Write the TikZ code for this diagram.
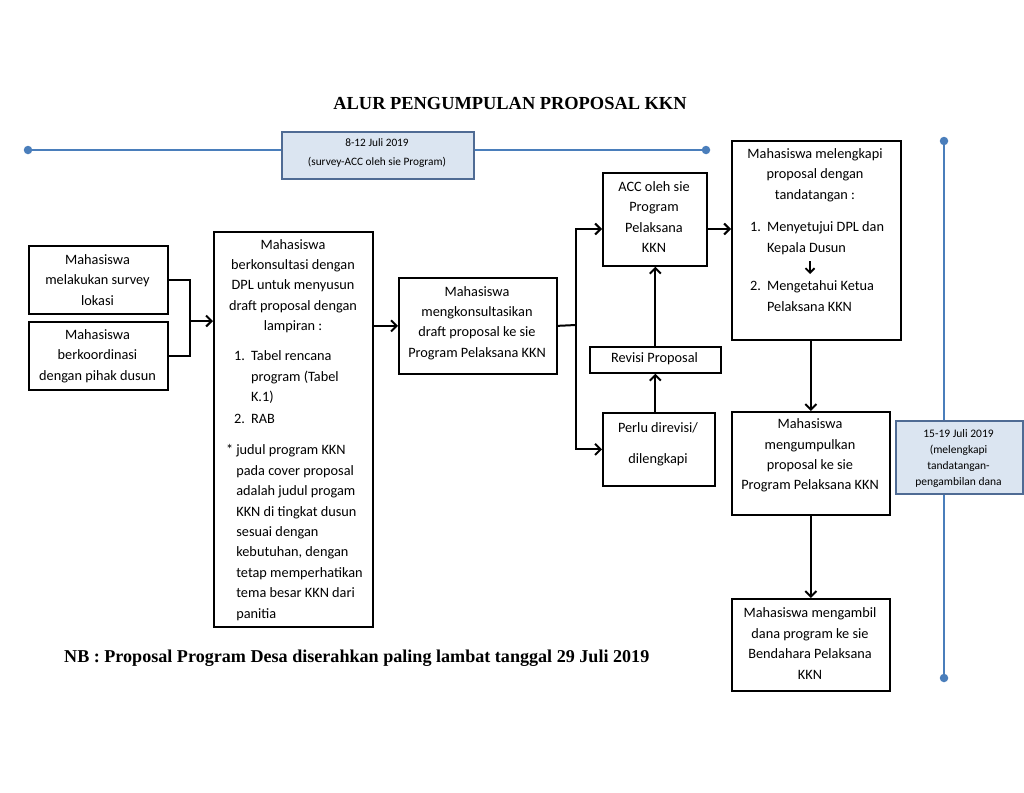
\documentclass[tikz,border=0pt]{standalone}
\usepackage{fontspec}
\setmainfont{Carlito}
\newfontfamily\timesfont{Liberation Serif}
\usetikzlibrary{arrows.meta}
\definecolor{tlblue}{HTML}{4A7EBB}
\definecolor{tbfill}{HTML}{DBE5F1}
\definecolor{tbedge}{HTML}{4F6B94}
\tikzset{
  box/.style={draw=black, line width=1.7pt, inner sep=0pt, anchor=north west},
  tbox/.style={draw=tbedge, fill=tbfill, line width=1.6pt, inner sep=0pt, anchor=north west},
  txt/.style={inner sep=0pt, align=center, font=\fontsize{14.3}{20.4}\selectfont},
  ltxt/.style={inner sep=0pt, anchor=west, font=\fontsize{14.3}{20.4}\selectfont},
  stxt/.style={inner sep=0pt, align=center, font=\fontsize{11.5}{16}\selectfont},
  ln/.style={line width=2pt},
  arr/.style={line width=2pt, -{Straight Barb[length=5.5pt,width=11pt,line width=2pt]}},
  tl/.style={draw=tlblue, line width=2.6pt},
  dot/.style={circle, fill=tlblue, inner sep=0pt, minimum size=8.5pt},
}
\begin{document}
\begin{tikzpicture}[x=1pt,y=-1pt]
\useasboundingbox[fill=white] (0,0) rectangle (1024,792);

% title
\node[inner sep=0pt, font=\timesfont\bfseries\fontsize{18.4}{20}\selectfont] (title) at (510,103) {ALUR PENGUMPULAN PROPOSAL KKN};

% top timeline
\node[dot] (d1) at (28,150) {};
\node[dot] (d2) at (706,150) {};
\node[tbox, minimum width=192pt, minimum height=47pt] (tb1) at (281,131) {};
\draw[tl] (d1) -- (d1 -| tb1.west);
\draw[tl] (d2 -| tb1.east) -- (d2);
\node[stxt, font=\fontsize{11.3}{19}\selectfont] (tb1t) at (377,153) {8-12 Juli 2019\\(survey-ACC oleh sie Program)};

% right timeline
\node[dot] (d3) at (944,141) {};
\node[dot] (d4) at (944,678) {};
\node[tbox, minimum width=127pt, minimum height=73pt] (tb2) at (895,420) {};
\draw[tl] (d3) -- (d3 |- tb2.north);
\draw[tl] (d4 |- tb2.south) -- (d4);
\node[stxt] (tb2t) at (958.5,458) {15-19 Juli 2019\\(melengkapi\\tandatangan-\\pengambilan dana};

% boxes
\node[box, minimum width=139pt, minimum height=68pt] (b1) at (28,245) {};
\node[box, minimum width=139pt, minimum height=68pt] (b2) at (28,321) {};
\node[box, minimum width=159pt, minimum height=395pt] (big) at (213,231) {};
\node[box, minimum width=158pt, minimum height=96pt] (b3) at (398,277) {};
\node[box, minimum width=104pt, minimum height=93pt] (acc) at (602,172) {};
\node[box, minimum width=131pt, minimum height=26pt] (rev) at (589,346) {};
\node[box, minimum width=112pt, minimum height=73pt] (perlu) at (602,412) {};
\node[box, minimum width=169pt, minimum height=199pt] (rb1) at (731,140) {};
\node[box, minimum width=158pt, minimum height=103pt] (rb2) at (731,411) {};
\node[box, minimum width=158pt, minimum height=92pt] (rb3) at (731,598) {};

% texts
\node[txt] (b1t) at (97.5,280) {Mahasiswa\\melakukan survey\\lokasi};
\node[txt] (b2t) at (97.5,356) {Mahasiswa\\berkoordinasi\\dengan pihak dusun};
\node[txt] (bigA) at (293,286) {Mahasiswa\\berkonsultasi dengan\\DPL untuk menyusun\\draft proposal dengan\\lampiran :};
\node[ltxt] (bigB) at (234,388) {\begin{tabular}{@{}l@{\hspace{6pt}}l@{}}1. & Tabel rencana\\ & program (Tabel\\ & K.1)\\[1.5pt] 2. & RAB\end{tabular}};
\node[ltxt] (bigC) at (226,532.5) {\begin{tabular}{@{}l@{\hspace{3pt}}l@{}}* & judul program KKN\\ & pada cover proposal\\ & adalah judul progam\\ & KKN di tingkat dusun\\ & sesuai dengan\\ & kebutuhan, dengan\\ & tetap memperhatikan\\ & tema besar KKN dari\\ & panitia\end{tabular}};
\node[txt] (b3t) at (477,323) {Mahasiswa\\mengkonsultasikan\\draft proposal ke sie\\Program Pelaksana KKN};
\node[txt] (acct) at (654,217) {ACC oleh sie\\Program\\Pelaksana\\KKN};
\node[txt] (revt) at (654.5,359) {Revisi Proposal};
\node[txt] (perlut) at (658,444) {Perlu direvisi/\\[11pt]dilengkapi};
\node[txt] (rb1A) at (815,175) {Mahasiswa melengkapi\\proposal dengan\\tandatangan :};
\node[ltxt] (rb1B) at (750,238) {\begin{tabular}{@{}l@{\hspace{6pt}}l@{}}1. & Menyetujui DPL dan\\ & Kepala Dusun\end{tabular}};
\node[ltxt] (rb1C) at (750,297) {\begin{tabular}{@{}l@{\hspace{6pt}}l@{}}2. & Mengetahui Ketua\\ & Pelaksana KKN\end{tabular}};
\node[txt] (rb2t) at (810,455.5) {Mahasiswa\\mengumpulkan\\proposal ke sie\\Program Pelaksana KKN};
\node[txt] (rb3t) at (810,643.5) {Mahasiswa mengambil\\dana program ke sie\\Bendahara Pelaksana\\KKN};

% NB
\node[inner sep=0pt, anchor=west, font=\timesfont\bfseries\fontsize{18.1}{20}\selectfont] (nb) at (64,658) {NB : Proposal Program Desa diserahkan paling lambat tanggal 29 Juli 2019};

% connectors
\coordinate (jn) at (190,321);
\draw[ln] (b1.east) -| (jn) |- (b2.east);
\draw[arr] (jn) -- (jn -| big.west);
\draw[arr] (big.east |- b3.west) -- (b3.west);
\coordinate (j2) at (576,325);
\coordinate (accin) at (602,229);
\draw[ln] (b3.east) -- (j2);
\draw[arr] (j2) |- (accin);
\draw[arr] (j2) |- (perlu.west);
\draw[arr] (rev.south |- perlu.north) -- (rev.south);
\draw[arr] (rev.north) -- (rev.north |- acc.south);
\draw[arr] (accin -| acc.east) -- (accin -| rb1.west);
\coordinate (sa1) at (810,261);
\coordinate (sa2) at (810,274);
\draw[line width=1.8pt, -{Straight Barb[length=4.5pt,width=9pt,line width=1.8pt]}] (sa1) -- (sa2);
\draw[arr] (rb2.north |- rb1.south) -- (rb2.north);
\draw[arr] (rb2.south) -- (rb3.north);
\end{tikzpicture}
\end{document}
